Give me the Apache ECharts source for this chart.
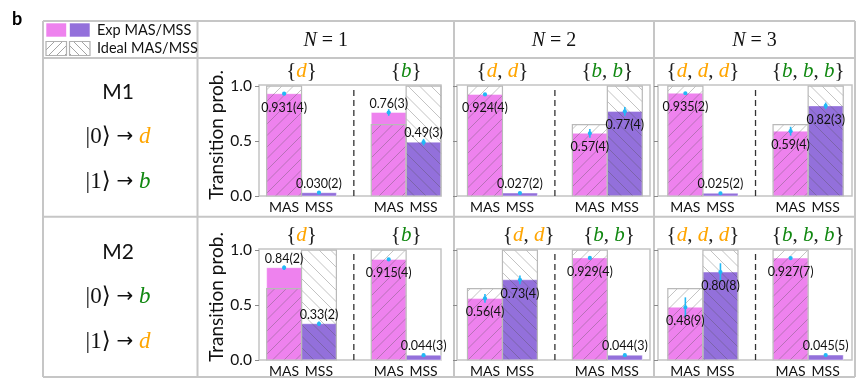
<!DOCTYPE html>
<html>
<head>
<meta charset="utf-8">
<script src="https://cdn.jsdelivr.net/npm/echarts@6/dist/echarts.min.js"></script>
<style>
  html, body { margin: 0; padding: 0; background: #fff; }
  #c { width: 863px; height: 383px; }
</style>
</head>
<body>
<div id="c"></div>
<script>
// ---- data -------------------------------------------------------------
const nValues = [1, 2, 3];
const mapNames = ['M1', 'M2'];
const mapStates = [['d', 'b'], ['b', 'd']];     // |0> -> ?, |1> -> ?
const groupLetters = ['d', 'b'];                  // {d,...} group, {b,...} group
const barSlots = [0, 1, 3, 4];
const barNames = ['MAS', 'MSS', 'MAS', 'MSS'];
const yTicks = [0, 0.5, 1];

// measured probability with uncertainty in the last digit, per N
const m1Results = [
  ['0.931(4)', '0.030(2)', '0.76(3)', '0.49(3)'],
  ['0.924(4)', '0.027(2)', '0.57(4)', '0.77(4)'],
  ['0.935(2)', '0.025(2)', '0.59(4)', '0.82(3)']
];
const m1Ideal = [
  [1, 0, 0.65, 1],
  [1, 0, 0.65, 1],
  [1, 0, 0.65, 1]
];
const m2Results = [
  ['0.84(2)', '0.33(2)', '0.915(4)', '0.044(3)'],
  ['0.56(4)', '0.73(4)', '0.929(4)', '0.044(3)'],
  ['0.48(9)', '0.80(8)', '0.927(7)', '0.045(5)']
];
const m2Ideal = [
  [0.65, 1, 1, 0],
  [0.65, 1, 1, 0],
  [0.65, 1, 1, 0]
];

// ---- layout / style ---------------------------------------------------
// value label sits above the bar top (1) or just under it (0)
const m1LabelAbove = [[0, 1, 1, 1], [0, 1, 0, 0], [0, 1, 0, 0]];
const m2LabelAbove = [[1, 1, 0, 1], [0, 0, 0, 1], [0, 0, 0, 1]];
// horizontal centre of the two group headings, in bar-slot units
const m1TitleAt = [[0.5, 3.5], [0.5, 3.5], [0.5, 3.5]];
const m2TitleAt = [[0.5, 3.5], [1.25, 3.55], [0.5, 3.5]];

const colFrames = [
  { left: 259, width: 182, min: -0.72, max: 4.5 },
  { left: 457, width: 193, min: -0.8, max: 4.72 },
  { left: 658, width: 194, min: -0.78, max: 4.75 }
];
const rowFrames = [
  { top: 85, height: 111, mapY: 92, nameY: 135 },
  { top: 249, height: 111, mapY: 252, nameY: 297 }
];
const Y_MAX = 1.01;

const SANS = 'Lato, "Open Sans", sans-serif';
const SERIF = '"Liberation Serif", "DejaVu Serif", serif';
const MAS_COLOR = '#EE82EE';
const MSS_COLOR = '#9370DB';
const ERR_COLOR = '#22B8F5';
const D_COLOR = '#FFA500';
const B_COLOR = '#118811';
const RULE = '#c6c6c6';
const HATCH = 'rgba(80,80,80,0.38)';
const TEXT = '#111';

function parseResult(s) {
  const m = s.match(/^([\d.]+)\((\d+)\)$/);
  const dec = (m[1].split('.')[1] || '').length;
  return [parseFloat(m[1]), parseInt(m[2], 10) / Math.pow(10, dec)];
}

// diagonal hatch lines clipped to a rectangle; dir > 0 draws '/', otherwise '\'
function hatchLines(x0, y0, x1, y1, dir, step, stroke) {
  const out = [];
  const style = { stroke: stroke, lineWidth: 0.9 };
  if (dir > 0) {
    for (let c = Math.ceil((x0 + y0) / step) * step; c <= x1 + y1; c += step) {
      const xa = Math.max(x0, c - y1), xb = Math.min(x1, c - y0);
      if (xb - xa < 0.4) continue;
      out.push({ type: 'line', shape: { x1: xa, y1: c - xa, x2: xb, y2: c - xb }, style: style, silent: true });
    }
  } else {
    for (let c = Math.ceil((x0 - y1) / step) * step; c <= x1 - y0; c += step) {
      const xa = Math.max(x0, c + y0), xb = Math.min(x1, c + y1);
      if (xb - xa < 0.4) continue;
      out.push({ type: 'line', shape: { x1: xa, y1: xa - c, x2: xb, y2: xb - c }, style: style, silent: true });
    }
  }
  return out;
}

function richLetters(letters) {
  return '{' + letters.map(l => '{' + l + '|' + l + '}').join(', ') + '}';
}
const letterRich = {
  d: { fill: D_COLOR, color: D_COLOR, fontStyle: 'italic', fontFamily: SERIF, fontSize: 21 },
  b: { fill: B_COLOR, color: B_COLOR, fontStyle: 'italic', fontFamily: SERIF, fontSize: 21 }
};
const mapRich = {
  d: { fill: D_COLOR, color: D_COLOR, fontStyle: 'italic', fontFamily: SERIF, fontSize: 23 },
  b: { fill: B_COLOR, color: B_COLOR, fontStyle: 'italic', fontFamily: SERIF, fontSize: 23 },
  a: { fill: '#111', color: '#111', fontFamily: '"DejaVu Sans", sans-serif', fontSize: 20 }
};

// ---- renderers --------------------------------------------------------
function renderExp(params, api) {
  const x = api.value(0), v = api.value(1), k = api.value(2);
  const tl = api.coord([x - 0.5, v]);
  const br = api.coord([x + 0.5, 0]);
  return {
    type: 'rect',
    shape: { x: tl[0], y: tl[1], width: br[0] - tl[0], height: br[1] - tl[1] },
    style: { fill: k ? MSS_COLOR : MAS_COLOR, stroke: 'rgba(255,255,255,0.55)', lineWidth: 0.8 }
  };
}

function renderIdeal(params, api) {
  const x = api.value(0), v = api.value(1), k = api.value(2);
  if (!(v > 0)) return null;
  const tl = api.coord([x - 0.5, v]);
  const br = api.coord([x + 0.5, 0]);
  const children = hatchLines(tl[0], tl[1], br[0], br[1], k ? -1 : 1, 11.5, HATCH);
  children.push({
    type: 'rect',
    shape: { x: tl[0], y: tl[1], width: br[0] - tl[0], height: br[1] - tl[1] },
    style: { fill: null, stroke: '#b9b9b9', lineWidth: 1.2 }
  });
  return { type: 'group', children: children };
}

function makeErrRenderer(texts, above) {
  return function (params, api) {
    const x = api.value(0), v = api.value(1), e = api.value(2);
    const lo = api.coord([x, v - e]);
    const hi = api.coord([x, v + e]);
    const mid = api.coord([x, v]);
    const i = params.dataIndex;
    return {
      type: 'group',
      children: [
        { type: 'line', shape: { x1: lo[0], y1: lo[1], x2: hi[0], y2: hi[1] }, style: { stroke: ERR_COLOR, lineWidth: 1.6 } },
        { type: 'circle', shape: { cx: mid[0], cy: mid[1], r: 2.1 }, style: { fill: ERR_COLOR } },
        {
          type: 'text',
          style: {
            text: texts[i], x: mid[0], y: mid[1] + (above[i] ? -9 : 14),
            align: 'center', verticalAlign: 'middle',
            fontFamily: SANS, fontSize: 12.5, fill: TEXT
          }
        }
      ]
    };
  };
}

function makeTitleRenderer(n) {
  return function (params, api) {
    const x = api.value(0), g = api.value(1);
    const p = api.coord([x, Y_MAX]);
    const letters = [];
    for (let j = 0; j < n; j++) letters.push(groupLetters[g]);
    return {
      type: 'text',
      style: {
        text: richLetters(letters), x: p[0], y: p[1] - 14,
        align: 'center', verticalAlign: 'middle',
        fontFamily: SERIF, fontSize: 21, fill: '#222', rich: letterRich
      }
    };
  };
}

function renderDivider(params, api) {
  const x = api.value(0);
  const a = api.coord([x, 0]);
  const b = api.coord([x, Y_MAX]);
  return {
    type: 'line',
    shape: { x1: a[0], y1: a[1], x2: b[0], y2: b[1] + 4 },
    style: { stroke: '#333', lineWidth: 1.3, lineDash: [6, 4] }
  };
}

// ---- build grids ------------------------------------------------------
const rowResults = [m1Results, m2Results];
const rowIdeal = [m1Ideal, m2Ideal];
const rowAbove = [m1LabelAbove, m2LabelAbove];
const rowTitleAt = [m1TitleAt, m2TitleAt];

const grid = [], xAxis = [], yAxis = [], series = [];

rowFrames.forEach((rf, r) => {
  colFrames.forEach((cf, c) => {
    const gi = grid.length;
    grid.push({
      left: cf.left, top: rf.top, width: cf.width, height: rf.height,
      show: true, borderColor: '#c4c4c4', borderWidth: 1.5, backgroundColor: 'transparent'
    });
    xAxis.push({
      type: 'value', gridIndex: gi, min: cf.min, max: cf.max,
      axisLine: { show: false, onZero: false }, axisTick: { show: false }, splitLine: { show: false },
      axisLabel: {
        customValues: barSlots, margin: 4,
        formatter: v => barNames[barSlots.indexOf(v)] || '',
        fontFamily: SANS, fontSize: 14, color: TEXT
      }
    });
    yAxis.push({
      type: 'value', gridIndex: gi, min: 0, max: Y_MAX,
      axisLine: { show: false, onZero: false }, splitLine: { show: false },
      axisTick: { show: true, customValues: yTicks, length: 4, lineStyle: { color: '#8a8a8a', width: 1 } },
      axisLabel: {
        show: c === 0, customValues: yTicks, margin: 7,
        formatter: v => v.toFixed(1), fontFamily: SANS, fontSize: 15.5, color: TEXT
      }
    });

    const texts = rowResults[r][c];
    const parsed = texts.map(parseResult);
    const ideal = rowIdeal[r][c];
    const common = { type: 'custom', xAxisIndex: gi, yAxisIndex: gi, silent: true, animation: false };

    series.push(Object.assign({}, common, {
      renderItem: renderExp, encode: { x: 0, y: 1 }, z: 1,
      data: barSlots.map((x, i) => [x, parsed[i][0], i % 2])
    }));
    series.push(Object.assign({}, common, {
      renderItem: renderIdeal, encode: { x: 0, y: 1 }, z: 2,
      data: barSlots.map((x, i) => [x, ideal[i], i % 2])
    }));
    series.push(Object.assign({}, common, {
      renderItem: renderDivider, encode: { x: 0, y: 1 }, z: 2,
      data: [[2, 0]]
    }));
    series.push(Object.assign({}, common, {
      renderItem: makeErrRenderer(texts, rowAbove[r][c]), encode: { x: 0, y: 1 }, z: 3,
      data: barSlots.map((x, i) => [x, parsed[i][0], parsed[i][1]])
    }));
    series.push(Object.assign({}, common, {
      renderItem: makeTitleRenderer(nValues[c]), encode: { x: 0 }, z: 3, clip: false,
      data: rowTitleAt[r][c].map((x, g) => [x, g])
    }));
  });
});

// ---- table frame, headings, legend ------------------------------------
const TABLE = { left: 43, right: 855, top: 21, header: 58, mid: 216.7, bottom: 377 };
const colEdges = [43, 197.5, 454, 654, 855];
const graphics = [];

[TABLE.top, TABLE.header, TABLE.mid, TABLE.bottom].forEach(y => {
  graphics.push({ type: 'line', shape: { x1: TABLE.left, y1: y, x2: TABLE.right, y2: y }, style: { stroke: RULE, lineWidth: 2 }, z: -1 });
});
colEdges.forEach(x => {
  graphics.push({ type: 'line', shape: { x1: x, y1: TABLE.top, x2: x, y2: TABLE.bottom }, style: { stroke: RULE, lineWidth: 2 }, z: -1 });
});

// panel letter
graphics.push({ type: 'text', x: 12, y: 19, style: { text: 'b', fontFamily: SANS, fontWeight: 'bold', fontSize: 18, fill: '#000', verticalAlign: 'middle' } });

// N headings
nValues.forEach((n, c) => {
  graphics.push({
    type: 'text', x: (colEdges[c + 1] + colEdges[c + 2]) / 2, y: 41,
    style: {
      text: '{n|N} = ' + n, fontFamily: SERIF, fontSize: 20, fill: '#111',
      align: 'center', verticalAlign: 'middle',
      rich: { n: { fontStyle: 'italic', fontFamily: SERIF, fontSize: 20, fill: '#111', color: '#111' } }
    }
  });
});

// mapping descriptions in the first column, and the shared y-axis title
mapNames.forEach((name, r) => {
  const cx = 118, y0 = rowFrames[r].mapY;
  graphics.push({ type: 'text', x: cx, y: y0, style: { text: name, fontFamily: SANS, fontSize: 21, fill: '#111', align: 'center', verticalAlign: 'middle' } });
  mapStates[r].forEach((s, k) => {
    graphics.push({
      type: 'text', x: cx, y: y0 + 45 * (k + 1),
      style: {
        text: '|' + k + '\u27E9 {a|\u2192} {' + s + '|' + s + '}', fontFamily: SERIF, fontSize: 23, fill: '#111',
        align: 'center', verticalAlign: 'middle',
        rich: mapRich
      }
    });
  });
  graphics.push({
    type: 'text', x: 217, y: rowFrames[r].nameY, rotation: Math.PI / 2,
    style: { text: 'Transition prob.', fontFamily: SANS, fontSize: 19, fill: '#111', align: 'center', verticalAlign: 'middle' }
  });
});

// legend swatches
const SW = { w: 20.5, h: 14 };
[[46, MAS_COLOR], [69.5, MSS_COLOR]].forEach(([x, col]) => {
  graphics.push({ type: 'rect', shape: { x: x, y: 23, width: SW.w, height: SW.h }, style: { fill: col, stroke: 'rgba(255,255,255,0.6)', lineWidth: 1 } });
});
[[46, 1], [69.5, -1]].forEach(([x, dir]) => {
  const y = 41.5;
  graphics.push({
    type: 'group',
    children: hatchLines(x, y, x + SW.w, y + SW.h, dir, 8, '#9a9a9a').concat([
      { type: 'rect', shape: { x: x, y: y, width: SW.w, height: SW.h }, style: { fill: null, stroke: '#b0b0b0', lineWidth: 1.2 } }
    ])
  });
});
graphics.push({ type: 'text', x: 97, y: 30, style: { text: 'Exp MAS/MSS', fontFamily: SANS, fontSize: 14.5, fill: '#111', verticalAlign: 'middle' } });
graphics.push({ type: 'text', x: 97, y: 48.5, style: { text: 'Ideal MAS/MSS', fontFamily: SANS, fontSize: 14.5, fill: '#111', verticalAlign: 'middle' } });

const chart = echarts.init(document.getElementById('c'), null, { renderer: 'canvas' });
chart.setOption({
  animation: false,
  backgroundColor: '#fff',
  grid: grid,
  xAxis: xAxis,
  yAxis: yAxis,
  series: series,
  graphic: graphics
});
</script>
</body>
</html>
